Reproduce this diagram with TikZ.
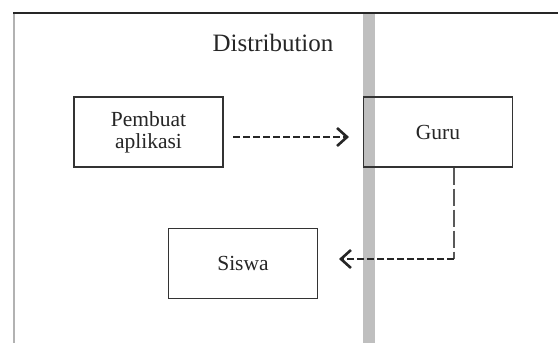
\documentclass[tikz,border=0pt]{standalone}
\usepackage{fontspec}
\setmainfont{Liberation Serif}
\usetikzlibrary{arrows.meta}
\begin{document}
\begin{tikzpicture}[x=1pt,y=-1pt,
  actor/.style={draw=black!80,line width=1.4pt,minimum width=149pt,minimum height=70pt,inner sep=0pt,font=\fontsize{21.5}{22}\selectfont,align=center,text=black!85},
  flow/.style={line width=2.6pt,draw=black!85,dash pattern=on 7pt off 3pt,-{Straight Barb[length=10pt,width=18pt,line width=2.6pt]}},
  drop/.style={line width=2pt,draw=black!65,dash pattern=on 17pt off 4pt}]
\useasboundingbox (0,0) rectangle (558,343);
\fill[white] (0,0) rectangle (558,343);
% gray band
\fill[black!25] (363,13) rectangle (375,343);
% frame
\draw[black!30,line width=2.5pt] (14,13) -- (14,343);
\draw[black!85,line width=1.6pt] (13,13) -- (558,13);
\node[font=\fontsize{25}{28}\selectfont,text=black!85] (title) at (273,43) {Distribution};
\node[actor] (pembuat) at (148.5,132) {Pembuat\\aplikasi};
\node[actor] (guru) at (438,132) {Guru};
\node[actor] (siswa) at (243,263.5) {Siswa};
\coordinate (c1) at (233,137);
\coordinate (t1) at (349,137);
\draw[flow] (c1) -- (t1);
\coordinate (bend) at (454,259);
\coordinate (t2) at (339,259);
\draw[drop] (guru.south -| bend) -- (bend);
\draw[flow] (bend) -- (t2);
\end{tikzpicture}
\end{document}
